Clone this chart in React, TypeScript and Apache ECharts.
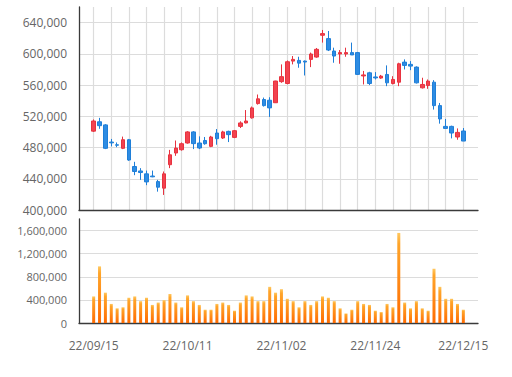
import React, { useEffect, useRef } from "react";
import * as echarts from "echarts";

const dates: string[] = [
  "22/09/15", "22/09/16", "22/09/19", "22/09/20", "22/09/21", "22/09/22", "22/09/23", "22/09/26",
  "22/09/27", "22/09/28", "22/09/29", "22/09/30", "22/10/04", "22/10/05", "22/10/06", "22/10/07",
  "22/10/11", "22/10/12", "22/10/13", "22/10/14", "22/10/17", "22/10/18", "22/10/19", "22/10/20",
  "22/10/21", "22/10/24", "22/10/25", "22/10/26", "22/10/27", "22/10/28", "22/10/31", "22/11/01",
  "22/11/02", "22/11/03", "22/11/04", "22/11/07", "22/11/08", "22/11/09", "22/11/10", "22/11/11",
  "22/11/14", "22/11/15", "22/11/16", "22/11/17", "22/11/18", "22/11/21", "22/11/22", "22/11/23",
  "22/11/24", "22/11/25", "22/11/28", "22/11/29", "22/11/30", "22/12/01", "22/12/02", "22/12/05",
  "22/12/06", "22/12/07", "22/12/08", "22/12/09", "22/12/12", "22/12/13", "22/12/14", "22/12/15",
];

// [open, close, low, high]
const ohlc: number[][] = [
  [501000, 514000, 500000, 516000],
  [513000, 508000, 504000, 518000],
  [509000, 479000, 478000, 510000],
  [487000, 486000, 481500, 491000],
  [483500, 483000, 480500, 486500],
  [479000, 490000, 478000, 494000],
  [490000, 464000, 463000, 491000],
  [455700, 449300, 444600, 461700],
  [450000, 448000, 438600, 453600],
  [446300, 436000, 431800, 450500],
  [443500, 442500, 442000, 450500],
  [436400, 429200, 423500, 438600],
  [428000, 446300, 419300, 449300],
  [458000, 470700, 453600, 477000],
  [473000, 479300, 469400, 489000],
  [477200, 484900, 476000, 486500],
  [485800, 500000, 485000, 501000],
  [500000, 485000, 478000, 501000],
  [485800, 479400, 478000, 494300],
  [489000, 484900, 483600, 493500],
  [481500, 493500, 480500, 495000],
  [498600, 491300, 483600, 503700],
  [492200, 500000, 491000, 501500],
  [500700, 496500, 487000, 501600],
  [493000, 501600, 492000, 502500],
  [507100, 511500, 505000, 513600],
  [511500, 514000, 511000, 528000],
  [518000, 530800, 517000, 532500],
  [536300, 542400, 535000, 547900],
  [541500, 533700, 532500, 544000],
  [540600, 530800, 519200, 544400],
  [537400, 565200, 537000, 565500],
  [564400, 570800, 562900, 586500],
  [562000, 589900, 561000, 591500],
  [590700, 592900, 586500, 597200],
  [591600, 588100, 582200, 596300],
  [590700, 589500, 572300, 591500],
  [592900, 599800, 583000, 601600],
  [595900, 605800, 595000, 607500],
  [623800, 625900, 614400, 630600],
  [619500, 604900, 603600, 629300],
  [603600, 597200, 588600, 607900],
  [599800, 601600, 587300, 604900],
  [599800, 601600, 596300, 607900],
  [601600, 598600, 598600, 614400],
  [601600, 573700, 573000, 602500],
  [571700, 573000, 560800, 578100],
  [575700, 562000, 560000, 577000],
  [570400, 569200, 567200, 576600],
  [569000, 571500, 568000, 573000],
  [573600, 562900, 558600, 585200],
  [562000, 567200, 560800, 571400],
  [563700, 587300, 558600, 588600],
  [589400, 585200, 580000, 592900],
  [586500, 584300, 579100, 590700],
  [583000, 562900, 562000, 584000],
  [556500, 560800, 555600, 569400],
  [559500, 565100, 555200, 567200],
  [563700, 533700, 528600, 566300],
  [533700, 516600, 510600, 537100],
  [507100, 504500, 504500, 516600],
  [507100, 498600, 491700, 508000],
  [493500, 499400, 490000, 504500],
  [501200, 488300, 488300, 505000],
];

const volumes: number[] = [
  460000, 980000, 525000, 330000, 254000, 272000, 437000, 460000, 378000, 437000,
  313000, 354000, 396000, 502000, 354000, 272000, 478000, 378000, 313000, 230000,
  230000, 330000, 354000, 313000, 213000, 354000, 478000, 460000, 378000, 378000,
  626000, 525000, 585000, 419000, 378000, 272000, 378000, 313000, 378000, 460000,
  437000, 378000, 254000, 165000, 230000, 378000, 330000, 313000, 213000, 189000,
  330000, 272000, 1559000, 354000, 254000, 378000, 254000, 213000, 939000, 626000,
  419000, 419000, 330000, 230000,
];

const labelDates: string[] = ["22/09/15", "22/10/11", "22/11/02", "22/11/24", "22/12/15"];

const priceMin = 400000;
const priceMax = 660000;
const priceStep = 40000;
const volMin = 0;
const volMax = 1800000;
const volStep = 400000;

const PAD = 2;

export default function App() {
  const ref = useRef<HTMLDivElement>(null);
  useEffect(() => {
    if (!ref.current) return;
    const chart = echarts.init(ref.current, undefined, { renderer: "svg" });
    const blanks = Array(PAD).fill("");
    const cats = [...blanks, ...dates, ...blanks];
    const dashes = Array(PAD).fill("-");
    const candleData = [...dashes, ...ohlc, ...dashes];
    const volData = [...dashes, ...volumes, ...dashes];
    const fmt = (v: number) => v.toLocaleString("en-US");
    const font = "'Open Sans', sans-serif";
    const axisLine = { show: true, lineStyle: { color: "#3a3a3a", width: 1.3 } };
    const gridLine = { color: "#dcdcdc", width: 1.2 };

    chart.setOption({
      animation: false,
      backgroundColor: "#ffffff",
      grid: [
        { left: 79, right: 34, top: 7, height: 203 },
        { left: 79, right: 34, top: 219, height: 104 },
      ],
      xAxis: [
        {
          type: "category",
          gridIndex: 0,
          data: cats,
          boundaryGap: true,
          axisLine,
          axisTick: { show: false },
          axisLabel: { show: false },
          splitLine: {
            show: true,
            alignWithLabel: true,
            interval: (i: number) => i >= PAD && i < PAD + dates.length && (i - PAD) % 3 === 0,
            lineStyle: gridLine,
          },
        },
        {
          type: "category",
          gridIndex: 1,
          data: cats,
          boundaryGap: true,
          axisLine,
          axisTick: { show: false },
          axisLabel: {
            interval: (i: number, v: string) => labelDates.includes(v),
            color: "#666666",
            fontSize: 12,
            fontFamily: font,
            margin: 16,
          },
          splitLine: { show: false },
        },
      ],
      yAxis: [
        {
          type: "value",
          gridIndex: 0,
          min: priceMin,
          max: priceMax,
          interval: priceStep,
          axisLine,
          axisTick: { show: false },
          axisLabel: {
            formatter: fmt,
            color: "#666666",
            fontSize: 12,
            fontFamily: font,
            margin: 12,
            showMaxLabel: false,
          },
          splitLine: { show: true, lineStyle: gridLine, showMaxLine: false },
        },
        {
          type: "value",
          gridIndex: 1,
          min: volMin,
          max: volMax,
          interval: volStep,
          axisLine,
          axisTick: { show: false },
          axisLabel: {
            formatter: fmt,
            color: "#666666",
            fontSize: 11,
            fontFamily: font,
            margin: 12,
            showMaxLabel: false,
          },
          splitLine: { show: true, lineStyle: gridLine, showMaxLine: false },
        },
      ],
      series: [
        {
          type: "candlestick",
          xAxisIndex: 0,
          yAxisIndex: 0,
          data: candleData,
          barWidth: 4,
          itemStyle: {
            color: "#f2434f",
            color0: "#2e8ce3",
            borderColor: "#e8323f",
            borderColor0: "#1f7fd8",
            borderColorDoji: "#1f7fd8",
            borderWidth: 1,
          },
        },
        {
          type: "bar",
          xAxisIndex: 1,
          yAxisIndex: 1,
          data: volData,
          barWidth: 3,
          itemStyle: {
            color: new echarts.graphic.LinearGradient(0, 0, 0, 1, [
              { offset: 0, color: "#ffc860" },
              { offset: 0.12, color: "#ffa52a" },
              { offset: 1, color: "#ff6a00" },
            ]),
          },
        },
      ],
    });
    return () => chart.dispose();
  }, []);
  return (
    <div
      ref={ref}
      style={{ position: "fixed", left: 0, top: 0, width: 512, height: 377, background: "#fff" }}
    />
  );
}
